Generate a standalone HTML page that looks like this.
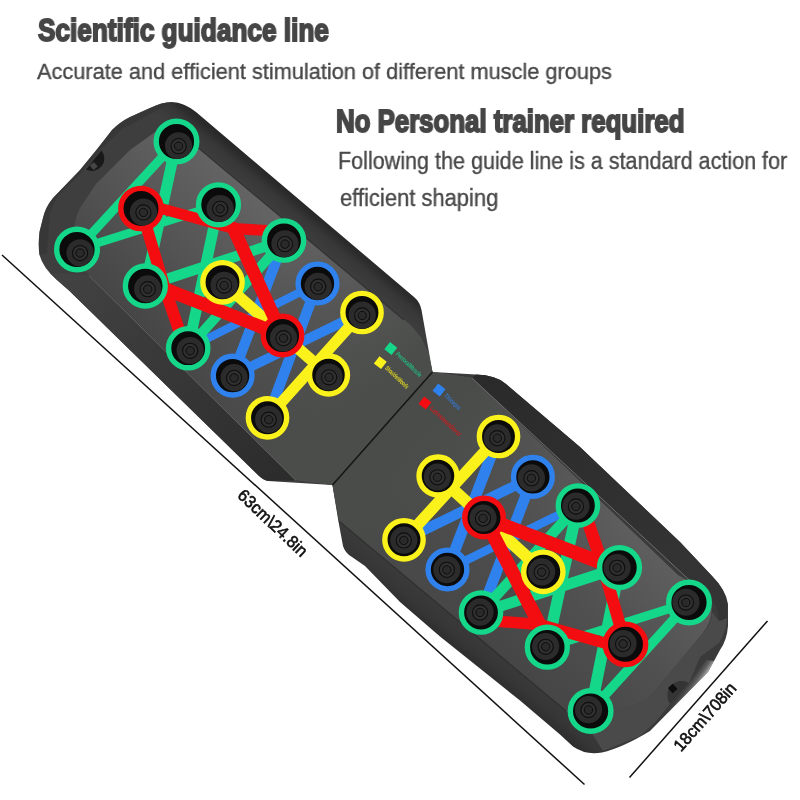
<!DOCTYPE html>
<html><head><meta charset="utf-8"><title>Scientific guidance line</title>
<style>
html,body{margin:0;padding:0;background:#fff;}
body{width:800px;height:800px;position:relative;overflow:hidden;font-family:"Liberation Sans",sans-serif;}
.t{position:absolute;white-space:nowrap;transform-origin:0 0;line-height:1;will-change:transform;}
.h{font-weight:bold;color:#464646;font-size:30.5px;-webkit-text-stroke:1.9px #464646;}
.p{color:#484848;-webkit-text-stroke:0.35px #484848;}
</style></head><body>
<svg width="800" height="800" viewBox="0 0 800 800" style="position:absolute;left:0;top:0;will-change:transform">
<defs>
<linearGradient id="bodyU" gradientUnits="userSpaceOnUse" x1="300" y1="234" x2="318" y2="212.5"><stop offset="0" stop-color="#3e3e3e"/><stop offset="0.5" stop-color="#373737"/><stop offset="0.78" stop-color="#2b2b2b"/><stop offset="1" stop-color="#272727"/></linearGradient>
<linearGradient id="plateU" gradientUnits="userSpaceOnUse" x1="300" y1="234" x2="167" y2="376"><stop offset="0" stop-color="#646464"/><stop offset="0.45" stop-color="#555555"/><stop offset="1" stop-color="#434343"/></linearGradient>
<linearGradient id="foldU" gradientUnits="userSpaceOnUse" x1="235" y1="265" x2="365" y2="405"><stop offset="0" stop-color="#4b4d4b" stop-opacity="0"/><stop offset="1" stop-color="#4b4d4b" stop-opacity="1"/></linearGradient>
<linearGradient id="sideU" gradientUnits="userSpaceOnUse" x1="60" y1="280" x2="280" y2="480"><stop offset="0" stop-color="#424242"/><stop offset="1" stop-color="#2c2c2c"/></linearGradient>
<linearGradient id="bodyL" gradientUnits="userSpaceOnUse" x1="460" y1="622" x2="443" y2="643"><stop offset="0" stop-color="#3a3a3a"/><stop offset="0.5" stop-color="#363636"/><stop offset="1" stop-color="#2c2c2c"/></linearGradient>
<linearGradient id="plateL" gradientUnits="userSpaceOnUse" x1="575" y1="477" x2="442" y2="619"><stop offset="0" stop-color="#5e5e5e"/><stop offset="0.45" stop-color="#505050"/><stop offset="1" stop-color="#444444"/></linearGradient>
<linearGradient id="foldL" gradientUnits="userSpaceOnUse" x1="540" y1="600" x2="405" y2="450"><stop offset="0" stop-color="#4a4c4a" stop-opacity="0"/><stop offset="1" stop-color="#4a4c4a" stop-opacity="1"/></linearGradient>
<linearGradient id="sideL" gradientUnits="userSpaceOnUse" x1="480" y1="375" x2="700" y2="580"><stop offset="0" stop-color="#2a2a2a"/><stop offset="1" stop-color="#343434"/></linearGradient>
<linearGradient id="shine" gradientUnits="userSpaceOnUse" x1="688" y1="682" x2="698" y2="689"><stop offset="0" stop-color="#606060" stop-opacity="0"/><stop offset="0.5" stop-color="#808080" stop-opacity="0.55"/><stop offset="1" stop-color="#e0e0e0" stop-opacity="0.9"/></linearGradient>
</defs>
<g><path d="M432.5,372 L476,374.5 Q496,375 506,384 L580,447 L680,542 L712,576 Q726,590 728,604 L728,626 Q727,640 720,650 L708,672 L650,731 Q622,748 602,752.5 Q586,755.5 573,746.5 L560,734.5 L520,700.5 L480,668.5 L440,636.5 L400,602 L365,566 L352,557 Q345,553 343,546 L338,519 L332.5,485 Z" fill="url(#bodyL)"/>
<path d="M432.5,372 L472,378 L678,575 Q706,590 711,604 Q714,620 702,634 L648,699 Q618,714 582,717 Q574,718 566,711 L339,521 L332.5,485 Z" fill="url(#plateL)"/>
<path d="M432.5,372 L472,378 L678,575 Q706,590 711,604 Q714,620 702,634 L648,699 Q618,714 582,717 Q574,718 566,711 L339,521 L332.5,485 Z" fill="url(#foldL)"/>
<path d="M719,621 L727,618 Q726,632 719,643 L700,657 L689,683 L670,704 L655,722.5 L640,736 L603,751 L582,717 Q618,714 648,699 L702,634 Q712,624 712,612 Z" fill="#4e4e4e" opacity="0.85"/>
<path d="M476,374.5 Q496,375 506,384 L580,447 L680,542 L712,576 Q725,589 727,603 L727,618 L719,621 Q718,604 708,596 L700,590 L472,378 Z" fill="url(#sideL)"/>
<path d="M472,378 L700,590" stroke="#7a7a7a" stroke-width="1" fill="none" opacity="0.8"/>
<path d="M566,711 L339,521" stroke="#2a2a2a" stroke-width="1.2" fill="none" opacity="0.7"/>
<path d="M706,660 L689,683 L670,704 L655,722.5 L650,731 L708,672 L714,661 Z" fill="url(#shine)"/>
<path d="M689,683 A14.5,14.5 0 0 0 670,704 Z" fill="#343434"/>
<rect x="669.5" y="685" width="6.5" height="7" fill="#0d0d0d" transform="rotate(-42 672.7 688.5)"/>
<line x1="481" y1="612.5" x2="532.9" y2="476.9" stroke="#2f82ee" stroke-width="10.82" stroke-linecap="round"/>
<line x1="447.5" y1="569.5" x2="577.9" y2="505.5" stroke="#2f82ee" stroke-width="8.53" stroke-linecap="round"/>
<line x1="447.5" y1="569.5" x2="498.5" y2="436.5" stroke="#2f82ee" stroke-width="11.02" stroke-linecap="round"/>
<line x1="404" y1="539.8" x2="532.9" y2="476.9" stroke="#2f82ee" stroke-width="10.19" stroke-linecap="round"/>
<line x1="590.6" y1="711" x2="689" y2="602.5" stroke="#14d78a" stroke-width="9.36" stroke-linecap="round"/>
<line x1="590.6" y1="711" x2="619.5" y2="567.5" stroke="#14d78a" stroke-width="11.44" stroke-linecap="round"/>
<line x1="689" y1="602.5" x2="547.3" y2="647.2" stroke="#14d78a" stroke-width="8.94" stroke-linecap="round"/>
<line x1="547.3" y1="647.2" x2="577.9" y2="505.5" stroke="#14d78a" stroke-width="11.44" stroke-linecap="round"/>
<line x1="619.5" y1="567.5" x2="481" y2="612.5" stroke="#14d78a" stroke-width="10.82" stroke-linecap="round"/>
<line x1="481" y1="612.5" x2="577.9" y2="505.5" stroke="#14d78a" stroke-width="10.4" stroke-linecap="round"/>
<line x1="404" y1="539.8" x2="498.5" y2="436.5" stroke="#fbf21b" stroke-width="11.44" stroke-linecap="round"/>
<line x1="543.3" y1="571.8" x2="438" y2="476" stroke="#fbf21b" stroke-width="12.06" stroke-linecap="round"/>
<line x1="625.5" y1="644.3" x2="602.0" y2="563.0" stroke="#f40d10" stroke-width="12.06" stroke-linecap="round"/>
<line x1="602.0" y1="563.0" x2="484" y2="517.5" stroke="#f40d10" stroke-width="13.73" stroke-linecap="round"/>
<line x1="602.0" y1="563.0" x2="588.0" y2="522.0" stroke="#f40d10" stroke-width="12.48" stroke-linecap="round"/>
<line x1="626.0" y1="649.0" x2="539.5" y2="624.5" stroke="#f40d10" stroke-width="11.44" stroke-linecap="round"/>
<line x1="539.5" y1="624.5" x2="501.0" y2="621.5" stroke="#f40d10" stroke-width="11.44" stroke-linecap="round"/>
<line x1="539.5" y1="624.5" x2="484" y2="517.5" stroke="#f40d10" stroke-width="13.73" stroke-linecap="round"/>
<g transform="translate(590.6 711)"><circle r="20.29" fill="#0b0b0b" stroke="#14d78a" stroke-width="5.4"/><clipPath id="h1G1"><circle r="17.69"/></clipPath><g clip-path="url(#h1G1)"><circle cx="-2.07" cy="-1.35" r="13.6" fill="#2b2b2b"/><circle cx="-2.07" cy="-1.05" r="7.6" fill="#303030" stroke="#0e0e0e" stroke-width="1.1"/><circle cx="-2.07" cy="-1.05" r="4.2" fill="#2a2a2a" stroke="#0e0e0e" stroke-width="1"/></g></g>
<g transform="translate(547.3 647.2)"><circle r="19.92" fill="#0b0b0b" stroke="#14d78a" stroke-width="5.4"/><clipPath id="h1G2"><circle r="17.32"/></clipPath><g clip-path="url(#h1G2)"><circle cx="-1.64" cy="-0.71" r="13.6" fill="#2b2b2b"/><circle cx="-1.64" cy="-0.41" r="7.6" fill="#303030" stroke="#0e0e0e" stroke-width="1.1"/><circle cx="-1.64" cy="-0.41" r="4.2" fill="#2a2a2a" stroke="#0e0e0e" stroke-width="1"/></g></g>
<g transform="translate(481 612.5)"><circle r="19.61" fill="#0b0b0b" stroke="#14d78a" stroke-width="5.4"/><clipPath id="h1G3"><circle r="17.01"/></clipPath><g clip-path="url(#h1G3)"><circle cx="-0.97" cy="-0.36" r="13.6" fill="#2b2b2b"/><circle cx="-0.97" cy="-0.06" r="7.6" fill="#303030" stroke="#0e0e0e" stroke-width="1.1"/><circle cx="-0.97" cy="-0.06" r="4.2" fill="#2a2a2a" stroke="#0e0e0e" stroke-width="1"/></g></g>
<g transform="translate(619.5 567.5)"><circle r="19.92" fill="#0b0b0b" stroke="#14d78a" stroke-width="5.4"/><clipPath id="h1G4"><circle r="17.32"/></clipPath><g clip-path="url(#h1G4)"><circle cx="-2.36" cy="0.08" r="13.6" fill="#2b2b2b"/><circle cx="-2.36" cy="0.38" r="7.6" fill="#303030" stroke="#0e0e0e" stroke-width="1.1"/><circle cx="-2.36" cy="0.38" r="4.2" fill="#2a2a2a" stroke="#0e0e0e" stroke-width="1"/></g></g>
<g transform="translate(577.9 505.5)"><circle r="19.61" fill="#0b0b0b" stroke="#14d78a" stroke-width="5.4"/><clipPath id="h1G5"><circle r="17.01"/></clipPath><g clip-path="url(#h1G5)"><circle cx="-1.94" cy="0.7" r="13.6" fill="#2b2b2b"/><circle cx="-1.94" cy="1.0" r="7.6" fill="#303030" stroke="#0e0e0e" stroke-width="1.1"/><circle cx="-1.94" cy="1.0" r="4.2" fill="#2a2a2a" stroke="#0e0e0e" stroke-width="1"/></g></g>
<g transform="translate(689 602.5)"><circle r="20.29" fill="#0b0b0b" stroke="#14d78a" stroke-width="5.4"/><clipPath id="h1G6"><circle r="17.69"/></clipPath><g clip-path="url(#h1G6)"><circle cx="-3.06" cy="-0.26" r="13.6" fill="#2b2b2b"/><circle cx="-3.06" cy="0.03999999999999998" r="7.6" fill="#303030" stroke="#0e0e0e" stroke-width="1.1"/><circle cx="-3.06" cy="0.03999999999999998" r="4.2" fill="#2a2a2a" stroke="#0e0e0e" stroke-width="1"/></g></g>
<g transform="translate(532.9 476.9)"><circle r="19.36" fill="#0b0b0b" stroke="#2f82ee" stroke-width="5.4"/><clipPath id="h1B1"><circle r="16.76"/></clipPath><g clip-path="url(#h1B1)"><circle cx="-1.49" cy="0.99" r="13.6" fill="#2b2b2b"/><circle cx="-1.49" cy="1.29" r="7.6" fill="#303030" stroke="#0e0e0e" stroke-width="1.1"/><circle cx="-1.49" cy="1.29" r="4.2" fill="#2a2a2a" stroke="#0e0e0e" stroke-width="1"/></g></g>
<g transform="translate(447.5 569.5)"><circle r="19.35" fill="#0b0b0b" stroke="#2f82ee" stroke-width="5.4"/><clipPath id="h1B2"><circle r="16.75"/></clipPath><g clip-path="url(#h1B2)"><circle cx="-0.64" cy="0.06" r="13.6" fill="#2b2b2b"/><circle cx="-0.64" cy="0.36" r="7.6" fill="#303030" stroke="#0e0e0e" stroke-width="1.1"/><circle cx="-0.64" cy="0.36" r="4.2" fill="#2a2a2a" stroke="#0e0e0e" stroke-width="1"/></g></g>
<g transform="translate(543.3 571.8)"><circle r="19.64" fill="#0b0b0b" stroke="#fbf21b" stroke-width="5.4"/><clipPath id="h1Y1"><circle r="17.04"/></clipPath><g clip-path="url(#h1Y1)"><circle cx="-1.6" cy="0.04" r="13.6" fill="#2b2b2b"/><circle cx="-1.6" cy="0.33999999999999997" r="7.6" fill="#303030" stroke="#0e0e0e" stroke-width="1.1"/><circle cx="-1.6" cy="0.33999999999999997" r="4.2" fill="#2a2a2a" stroke="#0e0e0e" stroke-width="1"/></g></g>
<g transform="translate(498.5 436.5)"><circle r="19.15" fill="#0b0b0b" stroke="#fbf21b" stroke-width="5.4"/><clipPath id="h1Y2"><circle r="16.55"/></clipPath><g clip-path="url(#h1Y2)"><circle cx="-1.15" cy="1.4" r="13.6" fill="#2b2b2b"/><circle cx="-1.15" cy="1.7" r="7.6" fill="#303030" stroke="#0e0e0e" stroke-width="1.1"/><circle cx="-1.15" cy="1.7" r="4.2" fill="#2a2a2a" stroke="#0e0e0e" stroke-width="1"/></g></g>
<g transform="translate(404 539.8)"><circle r="19.16" fill="#0b0b0b" stroke="#fbf21b" stroke-width="5.4"/><clipPath id="h1Y3"><circle r="16.56"/></clipPath><g clip-path="url(#h1Y3)"><circle cx="-0.2" cy="0.36" r="13.6" fill="#2b2b2b"/><circle cx="-0.2" cy="0.6599999999999999" r="7.6" fill="#303030" stroke="#0e0e0e" stroke-width="1.1"/><circle cx="-0.2" cy="0.6599999999999999" r="4.2" fill="#2a2a2a" stroke="#0e0e0e" stroke-width="1"/></g></g>
<g transform="translate(438 476)"><circle r="18.96" fill="#0b0b0b" stroke="#fbf21b" stroke-width="5.4"/><clipPath id="h1Y4"><circle r="16.36"/></clipPath><g clip-path="url(#h1Y4)"><circle cx="-0.55" cy="1.0" r="13.6" fill="#2b2b2b"/><circle cx="-0.55" cy="1.3" r="7.6" fill="#303030" stroke="#0e0e0e" stroke-width="1.1"/><circle cx="-0.55" cy="1.3" r="4.2" fill="#2a2a2a" stroke="#0e0e0e" stroke-width="1"/></g></g>
<g transform="translate(625.5 644.3)"><circle r="20.16" fill="#0b0b0b" stroke="#f40d10" stroke-width="5.4"/><clipPath id="h1R1"><circle r="17.56"/></clipPath><g clip-path="url(#h1R1)"><circle cx="-2.42" cy="-0.68" r="13.6" fill="#2b2b2b"/><circle cx="-2.42" cy="-0.38000000000000006" r="7.6" fill="#303030" stroke="#0e0e0e" stroke-width="1.1"/><circle cx="-2.42" cy="-0.38000000000000006" r="4.2" fill="#2a2a2a" stroke="#0e0e0e" stroke-width="1"/></g></g>
<g transform="translate(484 517.5)"><circle r="19.25" fill="#0b0b0b" stroke="#f40d10" stroke-width="5.4"/><clipPath id="h1R2"><circle r="16.65"/></clipPath><g clip-path="url(#h1R2)"><circle cx="-1.0" cy="0.58" r="13.6" fill="#2b2b2b"/><circle cx="-1.0" cy="0.8799999999999999" r="7.6" fill="#303030" stroke="#0e0e0e" stroke-width="1.1"/><circle cx="-1.0" cy="0.8799999999999999" r="4.2" fill="#2a2a2a" stroke="#0e0e0e" stroke-width="1"/></g></g></g>
<g><path d="M172,102 Q184,102.5 196,112 L414,297 Q420,302 421.5,310 L432.5,372 L332.5,485 L268,481 Q263,480 258,475 L69,290.5 L57,280 Q43,268 39.5,255 Q38,245 39.5,232 L43,218 Q45.5,207 53,198 L80,170 L98,148 L112,130 Q120,122 130,117 L150,108 Q162,102 172,102 Z" fill="url(#bodyU)"/>
<path d="M196,146 L404,320 Q412,326 415,331 L421,338 L428.2,353 L432.5,372 L332.5,485 L296,480 L92,277 Q78,266 74,250 Q71,226 80,208 L96,184 L130,150 L158,130 L176,126 Z" fill="url(#plateU)"/>
<path d="M196,146 L404,320 Q412,326 415,331 L421,338 L428.2,353 L432.5,372 L332.5,485 L296,480 L92,277 Q78,266 74,250 Q71,226 80,208 L96,184 L130,150 L158,130 L176,126 Z" fill="url(#foldU)"/>
<path d="M172,102 Q162,102 150,108 L130,117 Q120,122 112,130 L98,148 L80,170 L53,198 Q45.5,207 43,218 L39.5,232 Q38,245 39.5,255 L47,253 L50,214 Q53,202 60,194 L82,172 L102,148 L122,129 L158,110 Z" fill="#363636" opacity="0.75"/>
<path d="M50,273 L89,275.5 L296,480.5 L268,481 Q263,480 258,475 L69,290.5 L57,280 Z" fill="url(#sideU)"/>
<path d="M89,275.5 L296,480.5" stroke="#727272" stroke-width="1" fill="none" opacity="0.75"/>
<path d="M196,146 L404,320" stroke="#2c2c2c" stroke-width="1.2" fill="none" opacity="0.8"/>
<path d="M101.5,150.5 A12.5,12.5 0 0 1 86,169.5 Z" fill="#191919"/>
<rect x="91" y="163" width="5.5" height="6" fill="#454545" transform="rotate(-40 93.7 166)"/>
<line x1="284" y1="240.5" x2="232.6" y2="375.6" stroke="#2f82ee" stroke-width="10.4" stroke-linecap="round"/>
<line x1="317.5" y1="283.5" x2="188.2" y2="348.2" stroke="#2f82ee" stroke-width="8.2" stroke-linecap="round"/>
<line x1="317.5" y1="283.5" x2="267.5" y2="417.8" stroke="#2f82ee" stroke-width="10.6" stroke-linecap="round"/>
<line x1="362" y1="312.5" x2="232.6" y2="375.6" stroke="#2f82ee" stroke-width="9.8" stroke-linecap="round"/>
<line x1="176.5" y1="141.5" x2="77" y2="249.5" stroke="#14d78a" stroke-width="9.0" stroke-linecap="round"/>
<line x1="176.5" y1="141.5" x2="145.3" y2="286" stroke="#14d78a" stroke-width="11.0" stroke-linecap="round"/>
<line x1="77" y1="249.5" x2="218.5" y2="204.8" stroke="#14d78a" stroke-width="8.6" stroke-linecap="round"/>
<line x1="218.5" y1="204.8" x2="188.2" y2="348.2" stroke="#14d78a" stroke-width="11.0" stroke-linecap="round"/>
<line x1="145.3" y1="286" x2="284" y2="240.5" stroke="#14d78a" stroke-width="10.4" stroke-linecap="round"/>
<line x1="284" y1="240.5" x2="188.2" y2="348.2" stroke="#14d78a" stroke-width="10.0" stroke-linecap="round"/>
<line x1="362" y1="312.5" x2="267.5" y2="417.8" stroke="#fbf21b" stroke-width="11.0" stroke-linecap="round"/>
<line x1="222.5" y1="282.3" x2="328.5" y2="375" stroke="#fbf21b" stroke-width="11.6" stroke-linecap="round"/>
<line x1="141" y1="208.5" x2="165" y2="289" stroke="#f40d10" stroke-width="11.6" stroke-linecap="round"/>
<line x1="165" y1="289" x2="282.5" y2="335.5" stroke="#f40d10" stroke-width="13.2" stroke-linecap="round"/>
<line x1="165" y1="289" x2="179" y2="330" stroke="#f40d10" stroke-width="12.0" stroke-linecap="round"/>
<line x1="141" y1="203" x2="233.5" y2="228.5" stroke="#f40d10" stroke-width="11.0" stroke-linecap="round"/>
<line x1="233.5" y1="228.5" x2="266" y2="230.5" stroke="#f40d10" stroke-width="11.0" stroke-linecap="round"/>
<line x1="233.5" y1="228.5" x2="282.5" y2="335.5" stroke="#f40d10" stroke-width="13.2" stroke-linecap="round"/>
<g transform="translate(176.5 141.5)"><circle r="20.29" fill="#0b0b0b" stroke="#14d78a" stroke-width="5.4"/><clipPath id="h0G1"><circle r="17.69"/></clipPath><g clip-path="url(#h0G1)"><circle cx="2.07" cy="4.35" r="13.6" fill="#2b2b2b"/><circle cx="2.07" cy="4.6499999999999995" r="7.6" fill="#303030" stroke="#0e0e0e" stroke-width="1.1"/><circle cx="2.07" cy="4.6499999999999995" r="4.2" fill="#2a2a2a" stroke="#0e0e0e" stroke-width="1"/></g></g>
<g transform="translate(218.5 204.8)"><circle r="19.92" fill="#0b0b0b" stroke="#14d78a" stroke-width="5.4"/><clipPath id="h0G2"><circle r="17.32"/></clipPath><g clip-path="url(#h0G2)"><circle cx="1.65" cy="3.71" r="13.6" fill="#2b2b2b"/><circle cx="1.65" cy="4.01" r="7.6" fill="#303030" stroke="#0e0e0e" stroke-width="1.1"/><circle cx="1.65" cy="4.01" r="4.2" fill="#2a2a2a" stroke="#0e0e0e" stroke-width="1"/></g></g>
<g transform="translate(284 240.5)"><circle r="19.61" fill="#0b0b0b" stroke="#14d78a" stroke-width="5.4"/><clipPath id="h0G3"><circle r="17.01"/></clipPath><g clip-path="url(#h0G3)"><circle cx="0.99" cy="3.35" r="13.6" fill="#2b2b2b"/><circle cx="0.99" cy="3.65" r="7.6" fill="#303030" stroke="#0e0e0e" stroke-width="1.1"/><circle cx="0.99" cy="3.65" r="4.2" fill="#2a2a2a" stroke="#0e0e0e" stroke-width="1"/></g></g>
<g transform="translate(145.3 286)"><circle r="19.93" fill="#0b0b0b" stroke="#14d78a" stroke-width="5.4"/><clipPath id="h0G4"><circle r="17.33"/></clipPath><g clip-path="url(#h0G4)"><circle cx="2.38" cy="2.9" r="13.6" fill="#2b2b2b"/><circle cx="2.38" cy="3.1999999999999997" r="7.6" fill="#303030" stroke="#0e0e0e" stroke-width="1.1"/><circle cx="2.38" cy="3.1999999999999997" r="4.2" fill="#2a2a2a" stroke="#0e0e0e" stroke-width="1"/></g></g>
<g transform="translate(188.2 348.2)"><circle r="19.61" fill="#0b0b0b" stroke="#14d78a" stroke-width="5.4"/><clipPath id="h0G5"><circle r="17.01"/></clipPath><g clip-path="url(#h0G5)"><circle cx="1.95" cy="2.28" r="13.6" fill="#2b2b2b"/><circle cx="1.95" cy="2.5799999999999996" r="7.6" fill="#303030" stroke="#0e0e0e" stroke-width="1.1"/><circle cx="1.95" cy="2.5799999999999996" r="4.2" fill="#2a2a2a" stroke="#0e0e0e" stroke-width="1"/></g></g>
<g transform="translate(77 249.5)"><circle r="20.3" fill="#0b0b0b" stroke="#14d78a" stroke-width="5.4"/><clipPath id="h0G6"><circle r="17.7"/></clipPath><g clip-path="url(#h0G6)"><circle cx="3.06" cy="3.26" r="13.6" fill="#2b2b2b"/><circle cx="3.06" cy="3.5599999999999996" r="7.6" fill="#303030" stroke="#0e0e0e" stroke-width="1.1"/><circle cx="3.06" cy="3.5599999999999996" r="4.2" fill="#2a2a2a" stroke="#0e0e0e" stroke-width="1"/></g></g>
<g transform="translate(232.6 375.6)"><circle r="19.36" fill="#0b0b0b" stroke="#2f82ee" stroke-width="5.4"/><clipPath id="h0B1"><circle r="16.76"/></clipPath><g clip-path="url(#h0B1)"><circle cx="1.51" cy="2.0" r="13.6" fill="#2b2b2b"/><circle cx="1.51" cy="2.3" r="7.6" fill="#303030" stroke="#0e0e0e" stroke-width="1.1"/><circle cx="1.51" cy="2.3" r="4.2" fill="#2a2a2a" stroke="#0e0e0e" stroke-width="1"/></g></g>
<g transform="translate(317.5 283.5)"><circle r="19.35" fill="#0b0b0b" stroke="#2f82ee" stroke-width="5.4"/><clipPath id="h0B2"><circle r="16.75"/></clipPath><g clip-path="url(#h0B2)"><circle cx="0.66" cy="2.92" r="13.6" fill="#2b2b2b"/><circle cx="0.66" cy="3.2199999999999998" r="7.6" fill="#303030" stroke="#0e0e0e" stroke-width="1.1"/><circle cx="0.66" cy="3.2199999999999998" r="4.2" fill="#2a2a2a" stroke="#0e0e0e" stroke-width="1"/></g></g>
<g transform="translate(222.5 282.3)"><circle r="19.64" fill="#0b0b0b" stroke="#fbf21b" stroke-width="5.4"/><clipPath id="h0Y1"><circle r="17.04"/></clipPath><g clip-path="url(#h0Y1)"><circle cx="1.61" cy="2.94" r="13.6" fill="#2b2b2b"/><circle cx="1.61" cy="3.2399999999999998" r="7.6" fill="#303030" stroke="#0e0e0e" stroke-width="1.1"/><circle cx="1.61" cy="3.2399999999999998" r="4.2" fill="#2a2a2a" stroke="#0e0e0e" stroke-width="1"/></g></g>
<g transform="translate(267.5 417.8)"><circle r="19.16" fill="#0b0b0b" stroke="#fbf21b" stroke-width="5.4"/><clipPath id="h0Y2"><circle r="16.56"/></clipPath><g clip-path="url(#h0Y2)"><circle cx="1.16" cy="1.58" r="13.6" fill="#2b2b2b"/><circle cx="1.16" cy="1.8800000000000001" r="7.6" fill="#303030" stroke="#0e0e0e" stroke-width="1.1"/><circle cx="1.16" cy="1.8800000000000001" r="4.2" fill="#2a2a2a" stroke="#0e0e0e" stroke-width="1"/></g></g>
<g transform="translate(362 312.5)"><circle r="19.15" fill="#0b0b0b" stroke="#fbf21b" stroke-width="5.4"/><clipPath id="h0Y3"><circle r="16.55"/></clipPath><g clip-path="url(#h0Y3)"><circle cx="0.21" cy="2.63" r="13.6" fill="#2b2b2b"/><circle cx="0.21" cy="2.9299999999999997" r="7.6" fill="#303030" stroke="#0e0e0e" stroke-width="1.1"/><circle cx="0.21" cy="2.9299999999999997" r="4.2" fill="#2a2a2a" stroke="#0e0e0e" stroke-width="1"/></g></g>
<g transform="translate(328.5 375)"><circle r="18.96" fill="#0b0b0b" stroke="#fbf21b" stroke-width="5.4"/><clipPath id="h0Y4"><circle r="16.36"/></clipPath><g clip-path="url(#h0Y4)"><circle cx="0.55" cy="2.01" r="13.6" fill="#2b2b2b"/><circle cx="0.55" cy="2.3099999999999996" r="7.6" fill="#303030" stroke="#0e0e0e" stroke-width="1.1"/><circle cx="0.55" cy="2.3099999999999996" r="4.2" fill="#2a2a2a" stroke="#0e0e0e" stroke-width="1"/></g></g>
<g transform="translate(141 208.5)"><circle r="20.16" fill="#0b0b0b" stroke="#f40d10" stroke-width="5.4"/><clipPath id="h0R1"><circle r="17.56"/></clipPath><g clip-path="url(#h0R1)"><circle cx="2.42" cy="3.67" r="13.6" fill="#2b2b2b"/><circle cx="2.42" cy="3.9699999999999998" r="7.6" fill="#303030" stroke="#0e0e0e" stroke-width="1.1"/><circle cx="2.42" cy="3.9699999999999998" r="4.2" fill="#2a2a2a" stroke="#0e0e0e" stroke-width="1"/></g></g>
<g transform="translate(282.5 335.5)"><circle r="19.25" fill="#0b0b0b" stroke="#f40d10" stroke-width="5.4"/><clipPath id="h0R2"><circle r="16.65"/></clipPath><g clip-path="url(#h0R2)"><circle cx="1.01" cy="2.41" r="13.6" fill="#2b2b2b"/><circle cx="1.01" cy="2.71" r="7.6" fill="#303030" stroke="#0e0e0e" stroke-width="1.1"/><circle cx="1.01" cy="2.71" r="4.2" fill="#2a2a2a" stroke="#0e0e0e" stroke-width="1"/></g></g></g>
<path d="M432.5,372 L332.5,485" stroke="#141414" stroke-width="1.5" fill="none"/>
<rect x="-4.6" y="-4.6" width="9.2" height="9.2" fill="#14d78a" transform="translate(390.8 348.5) rotate(38)"/>
<rect x="-4.6" y="-4.6" width="9.2" height="9.2" fill="#fbf21b" transform="translate(380.3 362.6) rotate(38)"/>
<rect x="-4.6" y="-4.6" width="9.2" height="9.2" fill="#2f82ee" transform="translate(439 390) rotate(38)"/>
<rect x="-4.6" y="-4.6" width="9.2" height="9.2" fill="#f40d10" transform="translate(425 403) rotate(38)"/>
<text font-family="Liberation Sans, sans-serif" font-size="6.6" font-style="italic" font-weight="bold" opacity="0.78" fill="#14d78a" transform="translate(395.3 354.5) rotate(43.5)" textLength="33" lengthAdjust="spacingAndGlyphs">PectoralMuscle</text>
<text font-family="Liberation Sans, sans-serif" font-size="6.6" font-style="italic" font-weight="bold" opacity="0.78" fill="#fbf21b" transform="translate(384.5 368.5) rotate(43.5)" textLength="30" lengthAdjust="spacingAndGlyphs">ShoulderWoods</text>
<text font-family="Liberation Sans, sans-serif" font-size="6.6" font-style="italic" font-weight="bold" opacity="0.78" fill="#2f82ee" transform="translate(443.5 396) rotate(43.5)" textLength="21" lengthAdjust="spacingAndGlyphs">Triceps</text>
<text font-family="Liberation Sans, sans-serif" font-size="6.6" font-style="italic" font-weight="bold" opacity="0.78" fill="#f40d10" transform="translate(429.5 409) rotate(43.5)" textLength="40" lengthAdjust="spacingAndGlyphs">LatissimusDorsi</text>
<line x1="2" y1="255" x2="584.5" y2="784.5" stroke="#111" stroke-width="1.5"/>
<line x1="629.5" y1="777.5" x2="767.5" y2="621" stroke="#111" stroke-width="1.5"/>
<text font-family="Liberation Sans, sans-serif" font-size="17" fill="#111" stroke="#111" stroke-width="0.6" transform="translate(236.5 496.5) rotate(43.5)" textLength="89" lengthAdjust="spacingAndGlyphs">63cm\24.8in</text>
<text font-family="Liberation Sans, sans-serif" font-size="17" fill="#111" stroke="#111" stroke-width="0.6" transform="translate(681 752.5) rotate(-48.5)" textLength="85" lengthAdjust="spacingAndGlyphs">18cm\708in</text>
</svg>
<div class="t h" id="h1" style="left:37.8px;top:14.8px;transform:scaleX(0.858)">Scientific guidance line</div>
<div class="t p" id="p1" style="left:37.3px;top:60.7px;font-size:22.5px;transform:scaleX(0.967)">Accurate and efficient stimulation of different muscle groups</div>
<div class="t h" id="h2" style="left:335.6px;top:105.7px;transform:scaleX(0.846)">No Personal trainer required</div>
<div class="t p" id="p2" style="left:338px;top:150.2px;font-size:23px;transform:scaleX(0.937)">Following the guide line is a standard action for</div>
<div class="t p" id="p3" style="left:339.6px;top:187.1px;font-size:23px;transform:scaleX(0.955)">efficient shaping</div>
</body></html>
